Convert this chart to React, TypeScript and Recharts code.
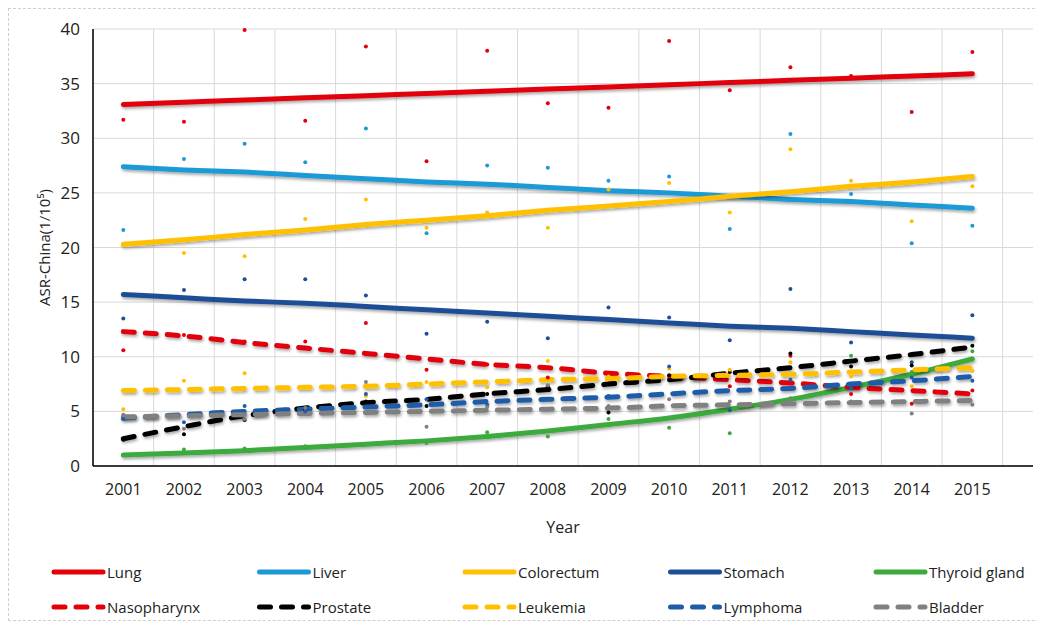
import React from 'react';
import { ComposedChart, Line, XAxis, YAxis, CartesianGrid, Legend, Label } from 'recharts';

const YEARS = [2001, 2002, 2003, 2004, 2005, 2006, 2007, 2008, 2009, 2010, 2011, 2012, 2013, 2014, 2015];
const Y_TICKS = [0, 5, 10, 15, 20, 25, 30, 35, 40];

// Trend lines (fitted)
const LUNG_FIT = [33.1, 33.3, 33.5, 33.7, 33.9, 34.1, 34.3, 34.5, 34.7, 34.9, 35.1, 35.3, 35.5, 35.7, 35.9];
const LIVER_FIT = [27.4, 27.1, 26.9, 26.6, 26.3, 26.0, 25.8, 25.5, 25.2, 25.0, 24.7, 24.4, 24.2, 23.9, 23.6];
const COLORECTUM_FIT = [20.3, 20.7, 21.2, 21.6, 22.1, 22.5, 22.9, 23.4, 23.8, 24.2, 24.7, 25.1, 25.6, 26.0, 26.5];
const STOMACH_FIT = [15.7, 15.4, 15.1, 14.9, 14.6, 14.3, 14.0, 13.7, 13.4, 13.1, 12.8, 12.6, 12.3, 12.0, 11.7];
const THYROID_FIT = [1.0, 1.2, 1.4, 1.7, 2.0, 2.3, 2.7, 3.2, 3.8, 4.4, 5.2, 6.1, 7.2, 8.4, 9.8];
const NASO_FIT = [12.3, 11.9, 11.3, 10.8, 10.3, 9.8, 9.3, 9.0, 8.5, 8.2, 7.9, 7.6, 7.2, 6.9, 6.6];
const PROSTATE_FIT = [2.5, 3.6, 4.6, 5.3, 5.8, 6.1, 6.6, 7.0, 7.5, 7.9, 8.5, 9.0, 9.6, 10.2, 10.9];
const LEUKEMIA_FIT = [6.9, 7.0, 7.1, 7.2, 7.3, 7.5, 7.7, 7.9, 8.0, 8.2, 8.3, 8.4, 8.6, 8.8, 9.0];
const LYMPHOMA_FIT = [4.4, 4.7, 5.0, 5.2, 5.4, 5.6, 5.9, 6.1, 6.3, 6.6, 6.9, 7.1, 7.5, 7.8, 8.2];
const BLADDER_FIT = [4.5, 4.6, 4.7, 4.8, 4.9, 5.0, 5.1, 5.2, 5.3, 5.5, 5.6, 5.7, 5.8, 5.9, 6.0];

// Observed values (dots)
const LUNG_PTS = [31.7, 31.5, 39.9, 31.6, 38.4, 27.9, 38.0, 33.2, 32.8, 38.9, 34.4, 36.5, 35.7, 32.4, 37.9];
const LIVER_PTS = [21.6, 28.1, 29.5, 27.8, 30.9, 21.3, 27.5, 27.3, 26.1, 26.5, 21.7, 30.4, 24.9, 20.4, 22.0];
const COLORECTUM_PTS = [20.2, 19.5, 19.2, 22.6, 24.4, 21.8, 23.2, 21.8, 25.3, 25.9, 23.2, 29.0, 26.1, 22.4, 25.6];
const STOMACH_PTS = [13.5, 16.1, 17.1, 17.1, 15.6, 12.1, 13.2, 11.7, 14.5, 13.6, 11.5, 16.2, 11.3, 9.5, 13.8];
const THYROID_PTS = [1.0, 1.5, 1.6, 1.8, 2.0, 2.1, 3.1, 2.7, 4.3, 3.5, 3.0, 6.2, 10.1, 8.6, 10.5];
const NASO_PTS = [10.6, 12.0, 11.4, 11.4, 13.1, 8.8, 9.3, 8.1, 8.4, 8.2, 7.3, 10.1, 6.6, 5.7, 6.9];
const PROSTATE_PTS = [2.4, 2.9, 4.2, 5.2, 5.9, 5.5, 6.6, 7.3, 4.9, 8.3, 8.6, 10.3, 9.1, 9.2, 11.0];
const LEUKEMIA_PTS = [5.2, 7.8, 8.5, 7.2, 6.4, 7.7, 7.2, 9.6, 8.2, 8.9, 8.8, 9.5, 8.2, 7.3, 8.7];
const LYMPHOMA_PTS = [4.3, 4.0, 5.5, 5.0, 6.6, 6.1, 5.6, 6.1, 6.4, 9.1, 5.1, 7.9, 7.1, 8.1, 7.8];
const BLADDER_PTS = [4.7, 3.4, 4.3, 5.3, 7.7, 3.6, 5.4, 7.4, 5.5, 6.1, 5.9, 6.0, 5.9, 4.8, 5.6];

const SERIES = [
  { key: 'lung', name: 'Lung', color: '#E3000B', dashed: false, fit: LUNG_FIT, pts: LUNG_PTS },
  { key: 'liver', name: 'Liver', color: '#1B9AD6', dashed: false, fit: LIVER_FIT, pts: LIVER_PTS },
  { key: 'colorectum', name: 'Colorectum', color: '#FFC000', dashed: false, fit: COLORECTUM_FIT, pts: COLORECTUM_PTS },
  { key: 'stomach', name: 'Stomach', color: '#1F4E96', dashed: false, fit: STOMACH_FIT, pts: STOMACH_PTS },
  { key: 'thyroid', name: 'Thyroid gland', color: '#3DAA3D', dashed: false, fit: THYROID_FIT, pts: THYROID_PTS },
  { key: 'naso', name: 'Nasopharynx', color: '#E3000B', dashed: true, fit: NASO_FIT, pts: NASO_PTS },
  { key: 'prostate', name: 'Prostate', color: '#000000', dashed: true, fit: PROSTATE_FIT, pts: PROSTATE_PTS },
  { key: 'leukemia', name: 'Leukemia', color: '#FFC000', dashed: true, fit: LEUKEMIA_FIT, pts: LEUKEMIA_PTS },
  { key: 'lymphoma', name: 'Lymphoma', color: '#1F5CA8', dashed: true, fit: LYMPHOMA_FIT, pts: LYMPHOMA_PTS },
  { key: 'bladder', name: 'Bladder', color: '#808080', dashed: true, fit: BLADDER_FIT, pts: BLADDER_PTS },
];

const DATA = YEARS.map((year, i) => {
  const row: any = { year };
  SERIES.forEach((s) => {
    row[s.key + 'Fit'] = s.fit[i];
    row[s.key + 'Pt'] = s.pts[i];
  });
  return row;
});

const X_DOMAIN = [YEARS[0] - 0.5, YEARS[YEARS.length - 1] + 0.5];
const X_BOUNDS = [YEARS[0] - 0.5, ...YEARS.map((y) => y + 0.5)];

const DASH = '11 11';
const FONT = '"Open Sans", "Liberation Sans", sans-serif';
const TEXT = '#222';

const renderLegend = () => (
  <svg width={1040} height={70} style={{ display: 'block' }}>
    {SERIES.map((s, i) => {
      const col = i % 5;
      const row = Math.floor(i / 5);
      const x = 43 + col * 205.5;
      const y = 22 + row * 35;
      return (
        <g key={s.key}>
          <line
            x1={x + 2}
            x2={x + 51}
            y1={y}
            y2={y}
            stroke={s.color}
            strokeWidth={5}
            strokeLinecap="round"
            strokeDasharray={s.dashed ? DASH : undefined}
          />
          <text x={x + 55} y={y} dominantBaseline="central" fontSize={15} fill={TEXT} fontFamily={FONT}>
            {s.name}
          </text>
        </g>
      );
    })}
  </svg>
);

const verticalGen = (props: any) => {
  const xAxis = props && props.xAxis;
  const scale = xAxis && xAxis.scale;
  if (typeof scale === 'function') return X_BOUNDS.map((v) => scale(v));
  if (scale && typeof scale.map === 'function') return X_BOUNDS.map((v) => scale.map(v));
  const off = props.offset || {};
  const left = off.left ?? 0;
  const w = off.width ?? 0;
  return X_BOUNDS.map((v) => left + ((v - X_DOMAIN[0]) / (X_DOMAIN[1] - X_DOMAIN[0])) * w);
};

export default function App() {
  return (
    <div style={{ width: 1040, height: 611, border: '1px dashed #CFCFCF', fontFamily: FONT }}>
      <ComposedChart width={1040} height={611} data={DATA} margin={{ top: 20, right: 16, left: 24, bottom: 0 }}>
        <defs>
          <filter id="shadow" x="-5%" y="-50%" width="110%" height="200%">
            <feDropShadow dx="1" dy="2" stdDeviation="1.5" floodColor="#000" floodOpacity="0.35" />
          </filter>
        </defs>
        <CartesianGrid stroke="#D9D9D9" verticalCoordinatesGenerator={verticalGen} />
        <XAxis
          dataKey="year"
          type="number"
          domain={X_DOMAIN}
          ticks={YEARS}
          allowDecimals={false}
          tickLine={false}
          axisLine={{ stroke: '#000', strokeWidth: 1.5 }}
          tick={{ fontSize: 16, fill: TEXT }}
          tickMargin={12}
          height={84}
        >
          <Label value="Year" position="insideTop" offset={56} style={{ fontSize: 16, fill: TEXT }} />
        </XAxis>
        <YAxis
          domain={[0, 40]}
          ticks={Y_TICKS}
          tickLine={false}
          axisLine={{ stroke: '#000', strokeWidth: 1.5 }}
          tick={{ fontSize: 17, fill: TEXT }}
          tickMargin={7}
          width={60}
        >
          <Label
            value="ASR-China(1/10⁵)"
            angle={-90}
            position="insideLeft"
            offset={12}
            style={{ textAnchor: 'middle', fontSize: 15, fill: TEXT }}
          />
        </YAxis>
        <Legend verticalAlign="bottom" content={renderLegend} wrapperStyle={{ left: 0, width: 1040 }} />
        {SERIES.map((s) => (
          <Line
            key={s.key + 'Pt'}
            dataKey={s.key + 'Pt'}
            stroke="none"
            strokeWidth={0}
            dot={{ r: 2, fill: s.color, stroke: 'none' }}
            activeDot={false}
            legendType="none"
            isAnimationActive={false}
          />
        ))}
        {SERIES.map((s) => (
          <Line
            key={s.key + 'Fit'}
            dataKey={s.key + 'Fit'}
            name={s.name}
            type="monotone"
            stroke={s.color}
            strokeWidth={5}
            strokeLinecap="round"
            strokeDasharray={s.dashed ? DASH : undefined}
            dot={false}
            activeDot={false}
            filter="url(#shadow)"
            isAnimationActive={false}
          />
        ))}
      </ComposedChart>
    </div>
  );
}
